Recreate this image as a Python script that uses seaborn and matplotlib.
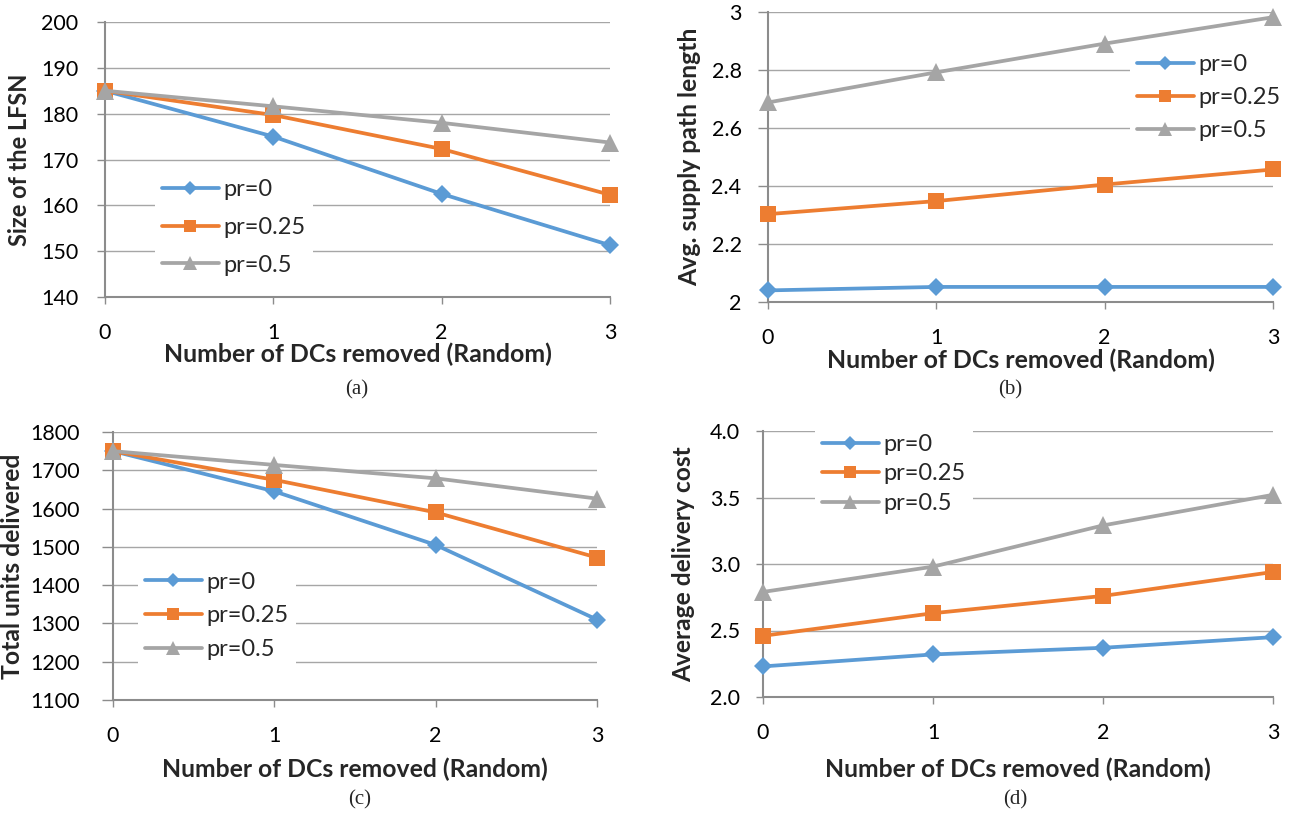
import matplotlib
matplotlib.use("Agg")
import matplotlib.pyplot as plt
import seaborn as sns
import pandas as pd

sns.set_style("white")
plt.rcParams['font.family'] = ['Lato', 'DejaVu Sans']

x_vals = [0, 1, 2, 3]
series_names = ["pr=0", "pr=0.25", "pr=0.5"]

lfsn_pr0 = [185, 175, 162.5, 151.3]
lfsn_pr025 = [185, 179.7, 172.3, 162.3]
lfsn_pr05 = [185, 181.6, 178.0, 173.7]

path_pr0 = [2.04, 2.052, 2.052, 2.052]
path_pr025 = [2.303, 2.348, 2.405, 2.457]
path_pr05 = [2.688, 2.792, 2.891, 2.982]

units_pr0 = [1750, 1645, 1505, 1310]
units_pr025 = [1750, 1675, 1590, 1472]
units_pr05 = [1750, 1714, 1679, 1626]

cost_pr0 = [2.23, 2.32, 2.37, 2.45]
cost_pr025 = [2.46, 2.63, 2.76, 2.94]
cost_pr05 = [2.79, 2.98, 3.29, 3.52]

colors = ["#5B9BD5", "#ED7D31", "#A5A5A5"]
markers = ["D", "s", "^"]
msizes = [9.5, 12, 12.5]

W, H = 1296, 816
fig = plt.figure(figsize=(W / 100, H / 100), dpi=100)


def add_ax(l, r, t, b):
    return fig.add_axes([l / W, 1 - b / H, (r - l) / W, (b - t) / H])


panels = [
    dict(box=(105, 610, 22, 297), data=[lfsn_pr0, lfsn_pr025, lfsn_pr05],
         ylim=(140, 200), yticks=[140, 150, 160, 170, 180, 190, 200], fmt="{:.0f}",
         ylabel="Size of the LFSN", ylc=-0.147, xlc=-0.164, ylen=173, xlen=389,
         ypad=13, ylen_t=6,
         leg=(155, 165, 320, 290), ls=0.7, cap="(a)", capxy=(357, 390)),
    dict(box=(768, 1273, 12, 302), data=[path_pr0, path_pr025, path_pr05],
         ylim=(2, 3), yticks=[2, 2.2, 2.4, 2.6, 2.8, 3.0], fmt="{:g}",
         ylabel="Avg. supply path length", ylc=-0.133, xlc=-0.159, ylen=259, xlen=390,
         ypad=12, ylen_t=7,
         leg=(1130, 45, 1296, 150), ls=0.5, cap="(b)", capxy=(1010, 390)),
    dict(box=(113, 597, 432, 700), data=[units_pr0, units_pr025, units_pr05],
         ylim=(1100, 1800), yticks=list(range(1100, 1801, 100)), fmt="{:.0f}",
         ylabel="Total units delivered", ylc=-0.184, xlc=-0.213, ylen=227, xlen=388,
         ypad=16, ylen_t=8,
         leg=(138, 562, 250, 670), ls=0.54, cap="(c)", capxy=(360, 800)),
    dict(box=(763, 1273, 431, 697), data=[cost_pr0, cost_pr025, cost_pr05],
         ylim=(2.0, 4.0), yticks=[2.0, 2.5, 3.0, 3.5, 4.0], fmt="{:.1f}",
         ylabel="Average delivery cost", ylc=-0.133, xlc=-0.226, ylen=237, xlen=387,
         ypad=11.5, ylen_t=5,
         leg=(815, 429, 995, 519), ls=0.37, cap="(d)", capxy=(1015, 800)),
]

axes = []
for p in panels:
    ax = add_ax(*p["box"])
    axes.append(ax)
    for name, vals, c, m, ms in zip(series_names, p["data"], colors, markers, msizes):
        df = pd.DataFrame({"x": x_vals, "y": vals})
        sns.lineplot(data=df, x="x", y="y", ax=ax, color=c, marker=m,
                     markersize=ms, markeredgewidth=0, linewidth=2.7,
                     label=name, clip_on=False, zorder=3)
    ax.set_xlim(0, 3)
    ax.set_ylim(*p["ylim"])
    ax.set_xticks(x_vals)
    ax.set_yticks(p["yticks"])
    ax.set_yticklabels([p["fmt"].format(v) for v in p["yticks"]])
    ax.yaxis.grid(True, color="#A6A6A6", linewidth=1.0, zorder=0)
    ax.xaxis.grid(False)
    for s in ["top", "right"]:
        ax.spines[s].set_visible(False)
    for s in ["left", "bottom"]:
        ax.spines[s].set_color("#8C8C8C")
        ax.spines[s].set_linewidth(1.5)
    ax.tick_params(axis="x", direction="out", length=5, width=1, color="#8C8C8C",
                   pad=14, labelsize=15.5, labelcolor="black", bottom=True)
    ax.tick_params(axis="y", direction="out", length=p["ylen_t"], width=1, color="#8C8C8C",
                   pad=p["ypad"], labelsize=15.5, labelcolor="black", left=True)
    ax.set_ylabel(p["ylabel"], fontsize=15, fontweight="bold")
    ax.set_xlabel("Number of DCs removed (Random)", fontsize=15, fontweight="bold")
    ax.yaxis.set_label_coords(p["ylc"], 0.5)
    ax.xaxis.set_label_coords(0.5, p["xlc"])
    ax.set_axisbelow(True)
    lx0, ly0, lx1, ly1 = p["leg"]
    l, r, t, b = p["box"]
    bx = (lx0 - l) / (r - l)
    by = (b - ly1) / (b - t)
    bw = (lx1 - lx0) / (r - l)
    bh = (ly1 - ly0) / (b - t)
    leg = ax.legend(loc="center left", bbox_to_anchor=(bx, by, bw, bh),
                    frameon=True, fontsize=17, handlelength=2.4, handletextpad=0.2,
                    labelspacing=p["ls"], borderaxespad=0, borderpad=0.3,
                    markerscale=0.75, fancybox=False)
    leg.get_frame().set_facecolor("white")
    leg.get_frame().set_edgecolor("none")
    leg.get_frame().set_alpha(1)
    leg.set_zorder(2)
    fig.text(p["capxy"][0] / W, 1 - p["capxy"][1] / H, p["cap"], ha="center", va="center",
             fontsize=15, family="Liberation Serif")

# fit label font sizes to the lengths measured on the reference
fig.canvas.draw()
renderer = fig.canvas.get_renderer()
for ax, p in zip(axes, panels):
    yl = ax.yaxis.label
    h = yl.get_window_extent(renderer).height
    yl.set_fontsize(15 * p["ylen"] / h)
    xl = ax.xaxis.label
    w = xl.get_window_extent(renderer).width
    xl.set_fontsize(15 * p["xlen"] / w)

fig.savefig("out.png", dpi=100)
